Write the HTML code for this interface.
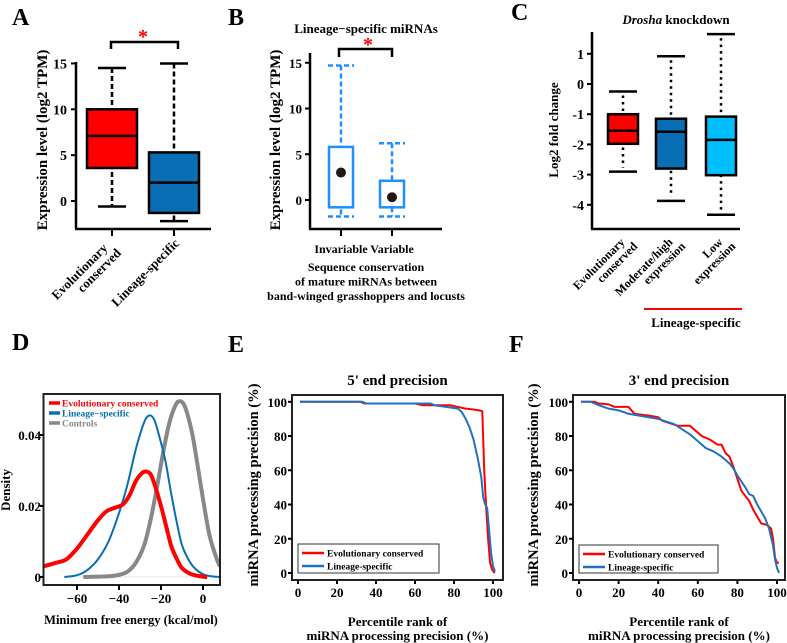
<!DOCTYPE html>
<html><head><meta charset="utf-8"><style>
html,body{margin:0;padding:0;background:#fff;}
svg{display:block;}
svg text, svg tspan{font-family:"Liberation Serif","DejaVu Serif",serif;font-weight:bold;}
</style></head><body>
<svg id="fig" width="787" height="643" viewBox="0 0 787 643" xmlns="http://www.w3.org/2000/svg" font-family="Liberation Serif, DejaVu Serif, serif" font-weight="bold">
<g id="gA"></g>
<g id="gB"></g>
<g id="gC"></g>
<g id="gD"></g>
<g id="gE"></g>
<g id="gF"></g>
</svg>
<script>
// Panel A data
const aCategories = ["Evolutionary conserved", "Lineage-specific"];
const aWhiskerLow = [-0.6, -2.2];
const aQ1 = [3.6, -1.3];
const aMedian = [7.1, 2.0];
const aQ3 = [10.0, 5.3];
const aWhiskerHigh = [14.5, 15.0];
const aTicks = [0, 5, 10, 15];
// Panel B data
const bCategories = ["Invariable", "Variable"];
const bWhiskerLow = [-1.8, -1.8];
const bQ1 = [-0.8, -0.8];
const bMean = [3.0, 0.3];
const bQ3 = [5.8, 2.1];
const bWhiskerHigh = [14.7, 6.2];
const bTicks = [0, 5, 10, 15];
// Panel C data
const cCategories = ["Evolutionary conserved", "Moderate/high expression", "Low expression"];
const cWhiskerLow = [-2.9, -3.87, -4.33];
const cQ1 = [-1.98, -2.8, -3.02];
const cMedian = [-1.55, -1.58, -1.85];
const cQ3 = [-1.0, -1.15, -1.08];
const cWhiskerHigh = [-0.25, 0.92, 1.65];
const cTicks = [-4, -3, -2, -1, 0, 1];
// Panel D data (x = kcal/mol, y = density)
const dTicksX = [-60, -40, -20, 0];
const dTicksY = [0, 0.02, 0.04];
const dRedX = [-76, -70, -65, -60, -55, -50, -46, -42, -38, -35, -32, -29, -27, -25, -23, -20, -17, -15, -12, -10, -7, -4, 0, 2];
const dRedY = [0.003, 0.004, 0.005, 0.008, 0.012, 0.016, 0.0185, 0.0195, 0.0205, 0.023, 0.027, 0.0293, 0.0297, 0.029, 0.026, 0.02, 0.013, 0.0085, 0.0045, 0.0025, 0.0012, 0.0005, 0.0001, 0.0];
const dBlueX = [-66, -60, -55, -50, -45, -40, -36, -32, -29, -27, -25, -23, -21, -18, -15, -12, -10, -7, -4, 0, 4, 8];
const dBlueY = [0.0, 0.0005, 0.002, 0.005, 0.01, 0.018, 0.026, 0.036, 0.042, 0.0448, 0.0455, 0.044, 0.04, 0.033, 0.023, 0.014, 0.009, 0.005, 0.0025, 0.0008, 0.0002, 0.0];
const dGrayX = [-57, -45, -40, -36, -32, -28, -25, -22, -19, -16, -13, -11, -9, -7, -5, -3, 0, 3, 6, 8];
const dGrayY = [0.0, 0.0002, 0.0006, 0.0015, 0.004, 0.009, 0.016, 0.025, 0.035, 0.0435, 0.0485, 0.0495, 0.0485, 0.045, 0.04, 0.033, 0.022, 0.012, 0.006, 0.003];
// Panel E data
const eTicks = [0, 20, 40, 60, 80, 100];
const eRedX = [1, 32, 34, 60, 64, 78, 82, 86, 90, 93, 94.5, 95.5, 96.5, 97.5, 98.5, 99.5, 100.5, 101];
const eRedY = [100, 100, 99, 99, 98, 98, 97, 96, 95.5, 95, 94.5, 60, 38, 20, 6, 2, 0.5, 0];
const eBlueX = [1, 33, 35, 68, 70, 76, 82, 84, 86, 88, 90, 92, 94, 95, 96, 97, 98, 99, 100, 101];
const eBlueY = [100, 100, 99, 99, 98, 97, 96, 94, 90, 85, 78, 68, 56, 44, 40, 38, 25, 12, 4, 1];
// Panel F data
const fRedX = [1, 8, 10, 15, 18, 25, 28, 35, 40, 42, 50, 56, 58, 62, 66, 70, 72, 74, 76, 78, 80, 82, 84, 86, 88, 90, 92, 95, 97, 98, 99, 100, 101];
const fRedY = [100, 100, 99, 98.5, 97, 97, 93, 92, 91, 89, 86, 86, 84, 80, 78, 75, 75, 70, 68, 62, 55, 48, 45, 42, 37, 33, 29, 28, 26, 20, 9, 6, 6];
const fBlueX = [1, 6, 10, 15, 20, 25, 30, 40, 48, 52, 56, 60, 64, 68, 72, 76, 78, 80, 84, 86, 88, 90, 94, 96, 98, 99, 100, 101];
const fBlueY = [100, 100, 98, 96, 95, 93, 92, 90, 87, 84, 81, 77, 73, 71, 68, 64, 61, 57, 50, 46, 45, 40, 32, 26, 16, 8, 3, 0];

const NS = "http://www.w3.org/2000/svg";
function mk(parent, tag, attrs, text){
  const el = document.createElementNS(NS, tag);
  for (const k in attrs) el.setAttribute(k, attrs[k]);
  if (tag === 'text') { el.setAttribute('font-family', 'Liberation Serif, DejaVu Serif, serif'); el.setAttribute('font-weight', 'bold'); }
  if (text !== undefined) el.textContent = text;
  parent.appendChild(el);
  return el;
}

/* ---------- Panel A ---------- */
(function(){
  const g = document.getElementById('gA');
  const y = v => 201 - v * 9.17;
  const xs = [112, 174];
  let t = mk(g,'text',{x:12,y:25,'font-size':24},'A');
   
  let l = mk(g,'line',{x1:76,y1:62,x2:76,y2:229,stroke:'#000','stroke-width':2.5});
   
  l = mk(g,'line',{x1:75,y1:229,x2:211,y2:229,stroke:'#000','stroke-width':2.5});
   
  aTicks.forEach(v=>{
    const tk = mk(g,'line',{x1:71,y1:y(v),x2:76,y2:y(v),stroke:'#000','stroke-width':2});
     
    const tl = mk(g,'text',{x:67,y:y(v)+5,'font-size':14,'text-anchor':'end'},String(v));
     
  });
  const fills = ['#FF0000','#0A6EB4'];
  aCategories.forEach((c,i)=>{
    const x = xs[i];
    const w1 = mk(g,'line',{x1:x,y1:y(aWhiskerHigh[i]),x2:x,y2:y(aWhiskerLow[i]),stroke:'#000','stroke-width':2.5,'stroke-dasharray':'5,3'});
     
    [aWhiskerHigh[i],aWhiskerLow[i]].forEach(v=>{
      const cap = mk(g,'line',{x1:x-14,y1:y(v),x2:x+14,y2:y(v),stroke:'#000','stroke-width':2.5});
       
    });
    const b = mk(g,'rect',{x:x-25,y:y(aQ3[i]),width:50,height:y(aQ1[i])-y(aQ3[i]),fill:fills[i],stroke:'#000','stroke-width':2.5});
     
    const m = mk(g,'line',{x1:x-25,y1:y(aMedian[i]),x2:x+25,y2:y(aMedian[i]),stroke:'#000','stroke-width':2.5});
     
    const tk = mk(g,'line',{x1:x,y1:229,x2:x,y2:236,stroke:'#000','stroke-width':2});
     
  });
  let tx = mk(g,'text',{'font-size':13,'text-anchor':'end',transform:'translate(114,246) rotate(-45)'});
   
  mk(tx,'tspan',{x:-6,y:-2},'Evolutionary'); mk(tx,'tspan',{x:0,y:11},'conserved');
  tx = mk(g,'text',{'font-size':13,'text-anchor':'end',transform:'translate(180,244) rotate(-45)'},'Lineage-specific');
   
  tx = mk(g,'text',{'font-size':15,'text-anchor':'middle',transform:'translate(47,140) rotate(-90)'},'Expression level (log2 TPM)');
   
  const br = mk(g,'path',{d:'M111,49 L111,42 L178,42 L178,49',fill:'none',stroke:'#000','stroke-width':2.5});
   
  tx = mk(g,'text',{x:143,y:43,'font-size':20,fill:'#FF0000','text-anchor':'middle'},'*');
   
})();

/* ---------- Panel B ---------- */
(function(){
  const g = document.getElementById('gB');
  const y = v => 200 - v * 9.15;
  const xs = [341, 392];
  const blue = '#1E8FFF';
  let t = mk(g,'text',{x:228,y:25,'font-size':24},'B');
   
  t = mk(g,'text',{x:366,y:33,'font-size':13,'text-anchor':'middle'},'Lineage\u2212specific miRNAs');
   
  let l = mk(g,'line',{x1:310,y1:53,x2:310,y2:229,stroke:'#000','stroke-width':2.5});
   
  l = mk(g,'line',{x1:309,y1:229,x2:442,y2:229,stroke:'#000','stroke-width':2.5});
   
  bTicks.forEach(v=>{
    const tk = mk(g,'line',{x1:305,y1:y(v),x2:310,y2:y(v),stroke:'#000','stroke-width':2});
     
    const tl = mk(g,'text',{x:302,y:y(v)+5,'font-size':13,'text-anchor':'end'},String(v));
     
  });
  bCategories.forEach((c,i)=>{
    const x = xs[i];
    const w = mk(g,'line',{x1:x,y1:y(bWhiskerHigh[i]),x2:x,y2:y(bWhiskerLow[i]),stroke:blue,'stroke-width':2.5,'stroke-dasharray':'5,3'});
     
    [bWhiskerHigh[i],bWhiskerLow[i]].forEach(v=>{
      const cap = mk(g,'line',{x1:x-13,y1:y(v),x2:x+13,y2:y(v),stroke:blue,'stroke-width':2.5,'stroke-dasharray':'5,3'});
       
    });
    const b = mk(g,'rect',{x:x-12,y:y(bQ3[i]),width:24,height:y(bQ1[i])-y(bQ3[i]),fill:'#fff',stroke:blue,'stroke-width':2.5});
     
    const d = mk(g,'circle',{cx:x,cy:y(bMean[i]),r:5,fill:'#231815'});
     
    const tk = mk(g,'line',{x1:x,y1:229,x2:x,y2:236,stroke:'#000','stroke-width':2});
     
    const tl = mk(g,'text',{x:x,y:253,'font-size':12,'text-anchor':'middle'},c);
     
  });
  const lines = ['Sequence conservation','of mature miRNAs between','band-winged grasshoppers and locusts'];
  lines.forEach((s,i)=>{
    const tl = mk(g,'text',{x:366,y:271+i*14.5,'font-size':12,'text-anchor':'middle'},s);
     
  });
  t = mk(g,'text',{'font-size':15,'text-anchor':'middle',transform:'translate(280,140) rotate(-90)'},'Expression level (log2 TPM)');
   
  const br = mk(g,'path',{d:'M339,57 L339,49 L392,49 L392,57',fill:'none',stroke:'#000','stroke-width':2.5});
   
  t = mk(g,'text',{x:368,y:51,'font-size':20,fill:'#FF0000','text-anchor':'middle'},'*');
   
})();

/* ---------- Panel C ---------- */
(function(){
  const g = document.getElementById('gC');
  const y = v => 84 - v * 30.2;
  const xs = [623, 671, 721];
  const fills = ['#FF0000','#0A6EB4','#00BFFF'];
  let t = mk(g,'text',{x:511,y:20,'font-size':24},'C');
   
  t = mk(g,'text',{x:676,y:24,'font-size':13,'text-anchor':'middle'});
   
  mk(t,'tspan',{'font-style':'italic'},'Drosha'); mk(t,'tspan',{},' knockdown');
  let l = mk(g,'line',{x1:592,y1:32,x2:592,y2:229,stroke:'#000','stroke-width':2.5});
   
  l = mk(g,'line',{x1:591,y1:229,x2:740,y2:229,stroke:'#000','stroke-width':2.5});
   
  cTicks.forEach(v=>{
    const tk = mk(g,'line',{x1:587,y1:y(v),x2:592,y2:y(v),stroke:'#000','stroke-width':2});
     
    const tl = mk(g,'text',{x:584,y:y(v)+5,'font-size':14,'text-anchor':'end'},String(v));
     
  });
  cCategories.forEach((c,i)=>{
    const x = xs[i];
    const w = mk(g,'line',{x1:x,y1:y(cWhiskerHigh[i])+4,x2:x,y2:y(cWhiskerLow[i])-4,stroke:'#000','stroke-width':2.5,'stroke-dasharray':'2.5,4'});
     
    [cWhiskerHigh[i],cWhiskerLow[i]].forEach(v=>{
      const cap = mk(g,'line',{x1:x-14,y1:y(v),x2:x+14,y2:y(v),stroke:'#000','stroke-width':2.5});
       
    });
    const b = mk(g,'rect',{x:x-15,y:y(cQ3[i]),width:30,height:y(cQ1[i])-y(cQ3[i]),fill:fills[i],stroke:'#000','stroke-width':2.5});
     
    const m = mk(g,'line',{x1:x-15,y1:y(cMedian[i]),x2:x+15,y2:y(cMedian[i]),stroke:'#000','stroke-width':2.5});
     
  });
  const lab = [['Evolutionary','conserved'],['Moderate/high','expression'],['Low','expression']];
  lab.forEach((p,i)=>{
    const tx = mk(g,'text',{'font-size':12,'text-anchor':'end',transform:'translate('+(xs[i]+8)+',240) rotate(-45)'});
     
    mk(tx,'tspan',{x:-6,y:-2},p[0]); mk(tx,'tspan',{x:0,y:10},p[1]);
  });
  l = mk(g,'line',{x1:644,y1:309,x2:742,y2:309,stroke:'#FF0000','stroke-width':2});
   
  t = mk(g,'text',{x:696,y:327,'font-size':13,'text-anchor':'middle'},'Lineage-specific');
   
  t = mk(g,'text',{'font-size':13,'text-anchor':'middle',transform:'translate(558,130) rotate(-90)'},'Log2 fold change');
   
})();

/* ---------- Panel D ---------- */
(function(){
  const g = document.getElementById('gD');
  const x = v => 203 + v * 2.1;
  const y = v => 577 - v * 3550;
  let t = mk(g,'text',{x:12,y:350,'font-size':24},'D');
   
  const defs = mk(g,'defs',{});
  const cp = mk(defs,'clipPath',{id:'clipD'});
  mk(cp,'rect',{x:44,y:395,width:175,height:189});
  let bl = mk(g,'line',{x1:x(-66),y1:y(0),x2:x(8),y2:y(0),stroke:'#e6e6e6','stroke-width':1});
   
  const series = [[dGrayX,dGrayY,'#888888',4,'controls-curve'],[dBlueX,dBlueY,'#0A6EB4',2,'lineage-specific-curve'],[dRedX,dRedY,'#FF0000',4,'evolutionary-conserved-curve']];
  series.forEach(s=>{
    const pts = s[0].map((v,i)=>[x(v),y(s[1][i])]);
    let d = 'M'+pts[0][0]+','+pts[0][1];
    for (let i=0;i<pts.length-1;i++){
      const p0=pts[Math.max(0,i-1)],p1=pts[i],p2=pts[i+1],p3=pts[Math.min(pts.length-1,i+2)];
      const c1x=p1[0]+(p2[0]-p0[0])/6,c1y=p1[1]+(p2[1]-p0[1])/6,c2x=p2[0]-(p3[0]-p1[0])/6,c2y=p2[1]-(p3[1]-p1[1])/6;
      d+=' C'+c1x+','+c1y+' '+c2x+','+c2y+' '+p2[0]+','+p2[1];
    }
    const p = mk(g,'path',{d:d,fill:'none',stroke:s[2],'stroke-width':s[3],'clip-path':'url(#clipD)','stroke-linejoin':'round'});
     
  });
  const fr = mk(g,'rect',{x:43.5,y:394,width:176.5,height:191,fill:'none',stroke:'#222','stroke-width':2});
   
  dTicksX.forEach(v=>{
    const tk = mk(g,'line',{x1:x(v),y1:585,x2:x(v),y2:590,stroke:'#000','stroke-width':2});
     
    const tl = mk(g,'text',{x:x(v),y:603,'font-size':13,'text-anchor':'middle'},v<0?'\u2212'+Math.abs(v):String(v));
     
  });
  dTicksY.forEach(v=>{
    const tk = mk(g,'line',{x1:40,y1:y(v),x2:44,y2:y(v),stroke:'#000','stroke-width':2});
     
    const tl = mk(g,'text',{x:41,y:y(v)+5,'font-size':13,'text-anchor':'end'},String(v));
     
  });
  const leg = [['Evolutionary conserved','#FF0000'],['Lineage\u2212specific','#0A6EB4'],['Controls','#888888']];
  leg.forEach((e,i)=>{
    const ly = 403 + i*10;
    const ln = mk(g,'line',{x1:49,y1:ly,x2:60,y2:ly,stroke:e[1],'stroke-width':3.5});
     
    const lt = mk(g,'text',{x:62,y:ly+3.5,'font-size':9.5,fill:e[1]},e[0]);
     
  });
  t = mk(g,'text',{x:131,y:624,'font-size':12.5,'text-anchor':'middle'},'Minimum free energy (kcal/mol)');
   
  t = mk(g,'text',{'font-size':13,'text-anchor':'middle',transform:'translate(10,490) rotate(-90)'},'Density');
   
})();

/* ---------- Panels E & F ---------- */
function precisionPanel(gid, letter, title, box, x0, x1, redX, redY, blueX, blueY, legBox, ylabX){
  const g = document.getElementById(gid);
  const x = v => x0 + v * (x1 - x0) / 100;
  const y = v => 573 - v * 1.712;
  let t = mk(g,'text',{x:box[0]-64,y:352,'font-size':24},letter);
   
  t = mk(g,'text',{x:(box[0]+box[2])/2,y:385,'font-size':15,'text-anchor':'middle'},title);
   
  [[redX,redY,'#FF0000','evolutionary-conserved-line'],[blueX,blueY,'#1F72C0','lineage-specific-line']].forEach(s=>{
    const pts = s[0].map((v,i)=>x(v)+','+y(s[1][i])).join(' ');
    const p = mk(g,'polyline',{points:pts,fill:'none',stroke:s[2],'stroke-width':2,'stroke-linejoin':'round'});
     
  });
  const fr = mk(g,'rect',{x:box[0],y:box[1],width:box[2]-box[0],height:box[3]-box[1],fill:'none',stroke:'#222','stroke-width':2});
   
  eTicks.forEach(v=>{
    const tk = mk(g,'line',{x1:x(v),y1:box[3],x2:x(v),y2:box[3]+4,stroke:'#000','stroke-width':2});
     
    const tl = mk(g,'text',{x:x(v),y:box[3]+17,'font-size':13,'text-anchor':'middle'},String(v));
     
    const tk2 = mk(g,'line',{x1:box[0]-4,y1:y(v),x2:box[0],y2:y(v),stroke:'#000','stroke-width':2});
     
    const tl2 = mk(g,'text',{x:box[0]-5,y:y(v)+5,'font-size':13,'text-anchor':'end'},String(v));
     
  });
  const lb = mk(g,'rect',{x:legBox[0],y:legBox[1],width:legBox[2]-legBox[0],height:legBox[3]-legBox[1],fill:'#fff',stroke:'#333','stroke-width':1});
   
  [['Evolutionary conserved','#FF0000'],['Lineage-specific','#1F72C0']].forEach((e,i)=>{
    const ly = legBox[1]+9+i*13;
    const ln = mk(g,'line',{x1:legBox[0]+4,y1:ly,x2:legBox[0]+26,y2:ly,stroke:e[1],'stroke-width':2.5});
     
    const lt = mk(g,'text',{x:legBox[0]+29,y:ly+3.5,'font-size':9.5},e[0]);
     
  });
  const cx = (box[0]+box[2])/2;
  t = mk(g,'text',{x:cx,y:626,'font-size':13,'text-anchor':'middle'},'Percentile rank of');
   
  t = mk(g,'text',{x:cx,y:640,'font-size':13,'text-anchor':'middle'},'miRNA processing precision (%)');
   
  t = mk(g,'text',{'font-size':14.5,'text-anchor':'middle',transform:'translate('+ylabX+',485) rotate(-90)'},'miRNA processing precision (%)');
   
}
precisionPanel('gE','E',"5' end precision",[292,395,503,580],298,493,eRedX,eRedY,eBlueX,eBlueY,[298,544,439,573],258);
precisionPanel('gF','F',"3' end precision",[573,395,785,580],579,777,fRedX,fRedY,fBlueX,fBlueY,[579,545,718,573],538);
</script>
</body></html>
